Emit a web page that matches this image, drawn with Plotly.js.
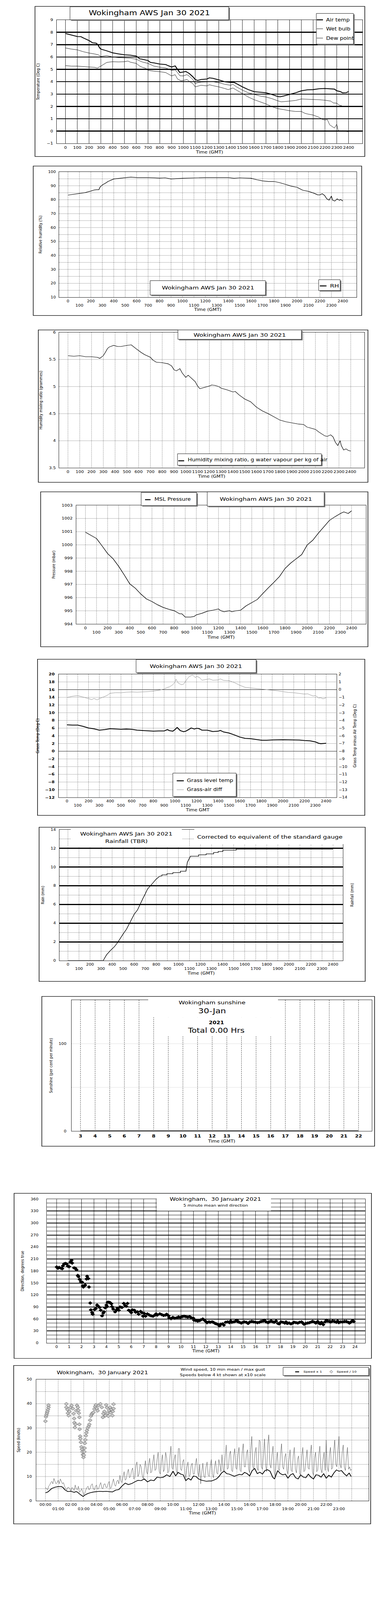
<!DOCTYPE html>
<html><head><meta charset="utf-8">
<script src="https://cdn.plot.ly/plotly-3.0.1.min.js"></script>
<style>html,body{margin:0;padding:0;background:#fff;overflow:hidden}#chart{width:1000px;height:5000px;transform-origin:0 0}</style>
</head><body><div id="chart"></div>
<script>
// ---------------- DATA ----------------
// common hour ticks (time written as HHMM-style hundreds)
const hhTicks = [0,100,200,300,400,500,600,700,800,900,1000,1100,1200,1300,1400,1500,1600,1700,1800,1900,2000,2100,2200,2300,2400];

// Panel 1: temperatures (Deg C)
const airTime = [0,50,100,130,150,200,230,260,275,290,300,350,400,450,500,550,600,630,650,700,720,750,800,850,870,900,930,950,970,1000,1020,1050,1080,1100,1120,1150,1200,1220,1250,1300,1350,1400,1430,1450,1500,1550,1600,1650,1700,1750,1800,1820,1850,1900,1950,2000,2050,2100,2150,2200,2250,2280,2300,2330,2350,2380,2400];
const airTemp = [7.9,7.77,7.66,7.65,7.55,7.33,7.15,7.12,7.0,6.73,6.64,6.5,6.34,6.25,6.18,6.15,6.08,5.85,5.82,5.71,5.56,5.52,5.43,5.39,5.3,5.19,5.28,5.0,4.74,4.79,4.83,4.66,4.4,4.18,4.1,4.18,4.22,4.31,4.27,4.15,4.0,3.94,3.94,3.84,3.58,3.36,3.19,3.15,3.1,2.97,2.8,2.78,2.84,2.97,3.1,3.26,3.34,3.36,3.43,3.45,3.42,3.4,3.27,3.2,3.1,3.11,3.2];
const wetTime = [0,50,100,150,200,250,280,300,350,400,450,500,550,600,650,700,750,800,850,900,930,950,970,1000,1030,1050,1080,1100,1120,1150,1200,1250,1300,1350,1400,1420,1450,1500,1550,1600,1650,1700,1750,1800,1830,1900,1950,2000,2050,2100,2150,2200,2250,2270,2300,2320,2350,2380,2400];
const wetBulb = [6.73,6.64,6.58,6.43,6.32,6.24,6.17,6.04,6.12,6.0,5.95,5.93,5.9,5.82,5.6,5.48,5.26,5.17,5.11,4.92,4.96,4.74,4.48,4.47,4.57,4.44,4.18,3.84,3.92,3.97,3.98,4.0,3.92,3.79,3.71,3.79,3.58,3.32,3.1,2.96,2.84,2.76,2.63,2.45,2.37,2.43,2.48,2.6,2.58,2.57,2.54,2.5,2.43,2.28,2.26,2.11,2.02,1.98,2.0];
const dewTime = [0,50,100,150,200,250,270,300,330,350,400,450,500,530,550,600,630,650,680,700,750,800,850,900,930,950,980,1000,1030,1050,1080,1100,1130,1150,1200,1220,1250,1300,1350,1380,1420,1450,1500,1550,1600,1650,1700,1750,1800,1850,1900,1950,2000,2030,2050,2100,2150,2180,2200,2220,2240,2260,2280,2300,2310,2320,2350,2370,2400];
const dewPoint = [5.3,5.26,5.26,5.22,5.19,5.16,5.1,5.26,5.43,5.56,5.62,5.6,5.62,5.67,5.58,5.48,5.26,5.17,5.09,4.92,4.85,4.81,4.74,4.47,4.57,4.22,4.07,4.1,4.18,4.03,3.84,3.58,3.66,3.71,3.66,3.75,3.68,3.58,3.45,3.36,3.49,3.32,3.02,2.76,2.54,2.37,2.2,1.98,1.82,1.74,1.65,1.59,1.59,1.44,1.39,1.3,1.12,0.94,0.9,0.94,0.51,0.38,0.25,0.55,0.12,0.0,0.04,-0.02,-0.05];

// Panel 2: relative humidity (%)
const rhTime = [0,50,100,150,200,230,250,270,280,300,330,350,400,450,500,550,600,700,800,850,900,1000,1100,1200,1300,1400,1450,1500,1600,1650,1700,1750,1800,1850,1900,1950,2000,2030,2050,2100,2150,2180,2200,2220,2240,2260,2280,2300,2310,2330,2350,2370,2380,2400];
const rhPct = [83.3,83.9,84.6,85.1,86.2,87.0,87.2,87.2,89.0,90.6,92.0,93.1,94.9,95.4,95.8,96.2,95.9,95.9,95.5,95.7,94.9,95.4,95.7,95.9,95.9,95.9,95.4,95.7,95.4,94.3,93.5,93.1,93.1,92.2,91.0,89.7,88.9,87.6,86.8,86.0,84.6,83.5,83.5,84.3,83.1,80.6,79.7,82.6,79.7,79.0,80.6,79.6,80.2,79.1];

// Panel 3: humidity mixing ratio (g/kg)
const mixTime = [0,50,100,150,200,250,270,300,320,335,350,388,420,450,500,537,578,621,650,680,700,720,750,800,850,880,900,920,950,970,1000,1020,1050,1080,1100,1120,1150,1200,1220,1250,1280,1300,1350,1400,1420,1450,1500,1550,1600,1650,1700,1750,1800,1850,1900,1950,2000,2030,2050,2100,2130,2150,2180,2200,2230,2250,2270,2290,2300,2310,2320,2340,2360,2380,2400];
const mixRatio = [5.57,5.56,5.57,5.55,5.55,5.54,5.52,5.57,5.64,5.70,5.73,5.76,5.74,5.74,5.76,5.77,5.70,5.63,5.59,5.56,5.54,5.49,5.45,5.44,5.42,5.38,5.31,5.29,5.33,5.25,5.17,5.21,5.15,5.09,5.01,4.96,4.98,5.01,5.03,5.02,5.0,4.97,4.94,4.9,4.91,4.85,4.77,4.72,4.62,4.55,4.5,4.44,4.38,4.35,4.33,4.31,4.3,4.25,4.24,4.21,4.16,4.13,4.09,4.08,4.11,4.07,3.97,3.91,3.95,4.0,3.91,3.83,3.85,3.82,3.81];

// Panel 4: MSL pressure (mbar)
const presTime = [0,50,100,150,200,250,300,350,400,450,500,550,600,650,700,750,800,850,870,900,950,980,1000,1050,1100,1150,1200,1220,1250,1300,1320,1350,1400,1450,1500,1550,1600,1650,1700,1750,1800,1850,1900,1950,2000,2050,2100,2150,2200,2250,2300,2330,2370,2400];
const presMb = [1000.96,1000.72,1000.48,999.92,999.34,998.94,998.37,997.72,997.04,996.71,996.27,995.9,995.7,995.46,995.26,995.12,995.01,994.77,994.77,994.53,994.53,994.57,994.69,994.81,994.97,995.05,995.14,995.01,994.93,995.01,994.93,994.99,995.05,995.38,995.62,995.86,996.31,996.75,997.16,997.6,998.21,998.61,998.94,999.26,999.99,1000.35,1000.88,1001.37,1001.85,1002.13,1002.38,1002.5,1002.38,1002.58];

// Panel 5: grass temperature and grass-air difference (Deg C)
const grassTime = [0,50,100,150,200,250,300,350,400,450,500,550,600,650,700,750,800,850,900,930,950,980,1000,1020,1050,1080,1100,1130,1150,1180,1200,1220,1250,1300,1350,1400,1420,1450,1500,1550,1600,1650,1700,1750,1800,1850,1900,2000,2100,2150,2200,2250,2300,2330,2350,2400];
const grassTemp = [6.87,6.79,6.79,6.46,6.04,5.82,5.48,5.62,5.85,5.76,5.71,5.76,5.71,5.48,5.4,5.26,5.21,5.26,5.26,5.62,5.35,5.21,5.62,6.18,5.35,5.07,5.21,5.68,6.04,5.76,5.96,5.9,5.48,5.48,5.12,5.21,5.4,5.01,4.73,4.24,3.68,3.35,3.26,3.07,2.85,2.85,2.93,2.99,2.93,2.9,2.79,2.71,2.43,2.07,1.96,2.07];
const diffTime = [0,50,100,150,200,230,250,280,300,350,380,400,450,500,550,600,650,700,750,800,850,900,930,950,980,1000,1010,1030,1060,1080,1100,1130,1160,1170,1190,1200,1230,1250,1300,1320,1350,1400,1420,1450,1500,1550,1600,1650,1700,1750,1800,1850,1900,1950,2000,2050,2100,2150,2200,2230,2250,2280,2300,2330,2350,2370,2400];
const grassAirDiff = [-1.03,-0.86,-0.78,-0.96,-1.16,-1.3,-1.14,-1.33,-1.16,-0.89,-0.68,-0.47,-0.4,-0.4,-0.33,-0.3,-0.33,-0.29,-0.26,-0.19,-0.08,0.08,0.29,0.36,0.64,0.99,1.36,0.85,0.64,0.71,1.13,1.68,1.89,1.82,1.54,1.75,1.54,1.22,1.33,1.4,1.22,1.26,1.4,1.2,1.17,0.92,0.57,0.29,0.22,0.15,0.08,0.02,-0.05,-0.15,-0.26,-0.36,-0.4,-0.5,-0.58,-0.54,-0.68,-0.82,-0.75,-1.09,-1.05,-1.19,-1.05];

// Panel 6: accumulated rainfall (mm)
const rainTime = [0,320,330,350,380,400,420,450,480,500,530,550,570,600,630,650,680,700,720,750,780,800,830,851,851,896,896,950,950,1018,1018,1068,1081,1109,1183,1183,1251,1251,1319,1319,1360,1360,1403,1403,1523,1523,2400];
const rainMm = [0,0,0.23,0.63,1.03,1.25,1.48,1.94,2.51,2.85,3.36,3.82,4.22,4.96,5.42,5.93,6.67,7.13,7.64,8.04,8.44,8.72,9.01,9.06,9.16,9.16,9.29,9.29,9.4,9.4,9.55,9.55,10.5,11.15,11.15,11.3,11.3,11.4,11.4,11.55,11.55,11.65,11.65,11.8,11.8,11.9,11.9];

// Panel 7: sunshine (per cent per minute), hourly
const sunHour = [3,4,5,6,7,8,9,10,11,12,13,14,15,16,17,18,19,20,21,22];
const sunPct = [0,0,0,0,0,0,0,0,0,0,0,0,0,0,0,0,0,0,0,0];

// Panel 8: 5 minute mean wind direction (degrees true)
const dirHour = [0.0,0.1,0.2,0.35,0.45,0.5,0.6,0.7,0.8,0.9,
 1.0,1.1,1.2,1.25,1.4,1.5,1.6,1.7,1.75,1.85,
 1.95,2.05,2.1,2.15,2.25,2.3,2.4,2.45,2.55,2.6,
 2.7,2.75,2.85,2.9,3.05,3.15,3.25,3.3,3.45,3.55,
 3.65,3.75,3.8,3.9,4.0,4.05,4.1,4.2,4.3,4.4,
 4.45,4.55,4.7,4.8,4.9,5.0,5.1,5.25,5.4,5.5,
 5.6,5.7,5.8,5.9,6.0,6.1,6.25,6.35,6.5,6.6,
 6.75,6.85,6.95,7.05,7.15,7.3,7.45,7.6,7.75,7.9,
 8.0,8.1,8.3,8.45,8.6,8.75,8.85,9.0,9.05,9.2,
 9.35,9.5,9.65,9.8,9.95,10.1,10.25,10.4,10.55,10.7,
 10.85,11.0,11.05,11.2,11.35,11.5,11.6,11.75,11.85,12.0,
 12.1,12.25,12.35,12.5,12.6,12.75,12.85,13.0,13.1,13.2,
 13.35,13.45,13.6,13.75,13.9,14.0,14.1,14.25,14.4,14.5,
 14.6,14.7,14.85,15.0,15.1,15.25,15.4,15.55,15.7,15.85,
 16.0,16.15,16.3,16.45,16.6,16.7,16.85,17.0,17.1,17.25,
 17.4,17.5,17.65,17.8,17.9,18.05,18.2,18.35,18.45,18.55,
 18.7,18.85,19.0,19.1,19.25,19.4,19.55,19.7,19.8,19.9,
 20.05,20.2,20.35,20.5,20.6,20.75,20.85,21.0,21.1,21.2,
 21.3,21.35,21.45,21.6,21.7,21.8,21.95,22.05,22.2,22.35,
 22.5,22.6,22.7,22.85,23.0,23.15,23.3,23.45,23.55,23.65,
 23.8,23.9];
const dirDeg = [190,187,189,187,186,193,198,199,198,192,
 191,202,207,200,188,187,183,169,166,159,
 153,152,143,140,144,145,160,167,161,140,
 100,83,76,72,84,86,95,93,89,82,
 68,75,78,88,95,91,102,102,101,98,
 91,85,78,82,87,82,90,89,99,94,
 92,99,82,80,76,83,82,77,78,72,
 79,76,67,74,67,73,70,68,67,70,
 73,70,73,71,69,70,72,68,63,61,
 64,62,63,65,64,66,67,66,65,66,
 63,62,57,56,55,56,58,60,58,54,
 51,53,52,53,52,49,48,46,43,47,
 48,45,52,53,51,55,52,53,55,57,
 53,52,50,52,53,52,49,53,54,53,
 52,51,52,54,55,57,53,51,53,55,
 53,52,55,49,48,53,52,50,53,49,
 50,48,50,52,51,50,52,53,50,47,
 49,50,51,53,54,52,50,54,50,48,
 52,50,46,53,57,55,54,53,55,54,
 52,55,51,53,53,54,54,52,50,52,
 56,54];

// Panel 9: wind speed (knots)
const hourTicks = [0,1,2,3,4,5,6,7,8,9,10,11,12,13,14,15,16,17,18,19,20,21,22,23,24];
const hourLabels = ['00:00','01:00','02:00','03:00','04:00','05:00','06:00','07:00','08:00','09:00','10:00','11:00','12:00','13:00','14:00','15:00','16:00','17:00','18:00','19:00','20:00','21:00','22:00','23:00',''];
const meanHour = [0,0.2,0.35,0.5,0.75,1.0,1.25,1.4,1.5,1.75,2.0,2.25,2.4,2.5,2.75,2.95,3.1,3.3,3.5,3.75,4.0,4.25,4.5,4.75,5.0,5.25,5.5,5.75,6.0,6.25,6.5,6.75,7.0,7.25,7.5,7.75,8.0,8.25,8.5,8.75,9.0,9.25,9.5,9.75,10.0,10.2,10.4,10.6,10.8,11.0,11.2,11.4,11.6,11.8,12.0,12.2,12.4,12.6,12.8,13.0,13.2,13.4,13.6,13.8,14.0,14.2,14.4,14.6,14.8,15.0,15.2,15.4,15.6,15.8,16.0,16.2,16.4,16.6,16.8,17.0,17.2,17.4,17.6,17.8,17.95,18.2,18.4,18.6,18.8,19.0,19.2,19.4,19.6,19.8,20.0,20.2,20.4,20.6,20.8,21.0,21.2,21.4,21.6,21.8,22.0,22.2,22.4,22.6,22.8,23.0,23.2,23.4,23.6,23.8,23.95];
const meanKt = [3.27,3.66,4.4,5.1,5.6,5.85,5.85,5.37,4.63,3.8,3.9,3.5,3.8,3.6,2.5,1.8,2.4,2.95,3.3,3.6,3.76,3.9,3.8,3.9,3.76,3.66,4.4,4.63,6.1,7.3,6.68,7.07,7.8,8.44,8.3,9.0,7.8,8.54,8.3,9.76,9.5,9.76,10.7,10.0,12.2,10.24,11.7,11.0,10.7,8.3,9.27,8.54,10.24,10.0,9.0,8.54,8.3,8.05,8.15,8.15,8.54,9.0,10.0,11.46,12.2,11.2,11.0,10.5,10.1,10.5,10.88,10.7,11.7,11.2,10.24,12.44,13.3,11.2,11.8,11.0,12.44,12.8,12.2,9.76,9.0,12.44,11.2,10.7,11.0,9.27,10.7,11.2,9.5,9.0,10.7,9.76,9.5,11.0,9.76,9.0,10.7,10.5,9.76,11.2,9.27,10.5,9.76,11.46,12.7,12.2,12.44,11.2,10.24,11.46,10.0];
// max gust, every 5 minutes (minutes after midnight)
const gustMin = [
 0,5,10,15,20,25,30,35,40,45,50,55,
 60,65,70,75,80,85,90,95,100,105,110,115,
 120,125,130,135,140,145,150,155,160,165,170,175,
 180,185,190,195,200,205,210,215,220,225,230,235,
 240,245,250,255,260,265,270,275,280,285,290,295,
 300,305,310,315,320,325,330,335,340,345,350,355,
 360,365,370,375,380,385,390,395,400,405,410,415,
 420,425,430,435,440,445,450,455,460,465,470,475,
 480,485,490,495,500,505,510,515,520,525,530,535,
 540,545,550,555,560,565,570,575,580,585,590,595,
 600,605,610,615,620,625,630,635,640,645,650,655,
 660,665,670,675,680,685,690,695,700,705,710,715,
 720,725,730,735,740,745,750,755,760,765,770,775,
 780,785,790,795,800,805,810,815,820,825,830,835,
 840,845,850,855,860,865,870,875,880,885,890,895,
 900,905,910,915,920,925,930,935,940,945,950,955,
 960,965,970,975,980,985,990,995,1000,1005,1010,1015,
 1020,1025,1030,1035,1040,1045,1050,1055,1060,1065,1070,1075,
 1080,1085,1090,1095,1100,1105,1110,1115,1120,1125,1130,1135,
 1140,1145,1150,1155,1160,1165,1170,1175,1180,1185,1190,1195,
 1200,1205,1210,1215,1220,1225,1230,1235,1240,1245,1250,1255,
 1260,1265,1270,1275,1280,1285,1290,1295,1300,1305,1310,1315,
 1320,1325,1330,1335,1340,1345,1350,1355,1360,1365,1370,1375,
 1380,1385,1390,1395,1400,1405,1410,1415,1420,1425,1430,1435,
 1439];
const gustKt = [
 5.5,5.0,4.5,6.0,6.5,7.5,8.0,7.0,9.2,8.0,7.0,7.5,
 8.5,7.0,9.0,8.0,7.0,7.5,6.0,5.0,4.5,5.5,5.5,4.8,
 4.0,5.5,5.0,4.2,6.5,5.0,4.5,6.0,3.5,4.0,5.0,3.8,
 2.5,3.0,4.5,5.5,6.0,4.5,5.0,6.5,7.0,5.0,4.5,6.0,
 6.5,4.8,5.0,6.5,7.5,5.2,5.0,6.8,7.0,5.5,5.5,7.2,
 8.0,5.0,5.5,7.5,9.0,6.5,6.0,8.0,8.5,7.0,10.5,8.0,
 7.5,10.0,12.0,8.5,9.0,11.5,13.0,9.5,10.0,12.5,13.5,9.0,
 9.5,14.5,16.0,10.0,11.0,15.0,14.0,10.5,9.0,13.0,16.5,12.0,
 11.0,15.0,17.5,11.5,12.0,16.0,19.0,12.5,13.0,17.0,20.0,12.0,
 11.0,16.0,19.0,12.0,13.0,20.0,17.5,11.5,12.0,18.0,22.5,13.5,
 13.0,17.0,19.0,12.5,11.0,21.5,21.5,13.0,12.5,16.0,17.0,11.0,
 9.5,14.0,16.0,10.0,10.5,14.5,15.5,11.0,11.0,15.0,17.5,12.0,
 10.0,15.0,7.0,12.0,15.5,10.0,9.5,14.0,16.0,10.5,10.0,14.5,
 17.0,11.0,9.5,14.0,16.5,11.5,11.0,17.0,15.0,12.0,19.0,13.0,
 12.0,18.0,23.0,13.0,13.5,19.0,20.5,12.5,12.0,18.5,21.5,13.5,
 13.0,19.0,22.0,12.5,12.0,20.0,23.5,14.0,14.0,19.5,21.0,13.0,
 11.5,21.0,26.5,14.0,13.0,20.0,22.0,13.5,12.5,25.0,24.5,14.0,
 13.0,19.0,25.5,14.5,12.0,23.0,27.2,15.0,13.5,19.0,22.5,12.0,
 10.0,16.0,20.0,13.0,12.5,19.0,23.5,14.0,13.0,18.0,19.5,12.5,
 11.0,17.0,21.0,12.5,12.0,18.5,22.0,13.0,11.5,17.0,18.5,11.0,
 11.0,18.5,22.0,12.0,12.5,17.0,21.0,13.5,13.0,19.0,23.0,12.0,
 10.5,17.5,20.0,12.0,12.5,19.0,22.5,13.0,11.5,17.0,20.0,12.5,
 25.0,14.0,12.0,19.0,22.0,13.0,13.5,20.0,25.0,15.0,14.0,21.0,
 26.5,15.0,13.5,20.0,23.0,14.0,12.5,18.0,22.0,13.0,14.0,12.5,
 13.0];
const lowHour = [0.0,0.04,0.08,0.12,0.16,0.2,0.24,0.24,
 1.64,1.64,1.72,1.76,1.82,1.88,1.96,2.05,2.15,2.21,
 2.25,2.27,2.31,2.35,2.41,2.47,2.54,2.58,2.62,2.66,
 2.66,2.68,2.72,2.74,2.78,2.82,2.86,2.9,2.94,2.98,
 3.01,3.05,3.07,3.09,3.13,3.17,3.21,3.25,3.31,3.39,
 3.44,3.5,3.56,3.62,3.68,3.76,3.84,3.9,3.95,4.03,
 4.09,4.17,4.31,4.42,4.5,4.54,4.62,4.7,4.76,4.82,
 4.87,4.93,4.99,5.07,5.11,5.17,5.25,5.28,5.34,5.34];
const lowX10 = [32.8,34.6,35.4,36.1,36.8,37.6,38.5,39.4,
 39.9,38.5,37.6,36.1,35.1,36.8,38.4,39.3,38.0,35.9,
 33.9,32.2,30.2,31.5,37.1,39.3,38.5,37.3,36.1,34.4,
 31.5,29.5,26.6,25.6,24.1,22.2,21.2,20.2,19.0,17.9,
 18.8,20.2,21.7,23.7,25.1,26.8,28.0,29.0,30.0,30.7,
 31.5,33.2,34.9,35.6,36.1,36.4,37.8,38.8,39.5,38.0,
 37.1,39.3,39.9,38.5,34.4,35.9,36.8,35.1,39.5,38.4,
 36.1,34.9,37.3,38.5,36.3,37.6,35.1,36.8,39.8,38.0];

// ---------------- STYLE HELPERS ----------------
const F = 'DejaVu Sans, Liberation Sans, Arial, sans-serif';
const DOT = '1px,2px';
const K = '#000';
function xd(a,b){return [a/1000,b/1000];}
function yd(t,b){return [1-b/5000,1-t/5000];}
function tf(size,weight){return {family:F,size:size,color:K,weight:weight||'normal'};}
function ttl(text,standoff,size){return {text:text,standoff:standoff,font:tf(size)};}
function twoRow(vals,labels){return vals.map((v,i)=>{const s=labels?labels[i]:String(v);return i%2===0?s:'<br>'+s;});}
function ax(o){
  return Object.assign({showline:true,mirror:true,linecolor:K,linewidth:1,ticks:'',zeroline:false,tickangle:0,
    showgrid:true,gridcolor:K,gridwidth:1,griddash:DOT,tickfont:tf(11),fixedrange:true,automargin:false,layer:'below traces'},o);
}

const shapes=[]; const ann=[];
function rectPx(x0,y0,x1,y1,opt){shapes.push(Object.assign({type:'rect',xref:'paper',yref:'paper',x0:x0/1000,x1:x1/1000,y0:1-y0/5000,y1:1-y1/5000,layer:'above'},opt));}
function frame(x0,y0,x1,y1){rectPx(x0,y0,x1,y1,{line:{color:K,width:1.5},fillcolor:'rgba(0,0,0,0)'});}
function box(x0,y0,x1,y1){rectPx(x0+3,y0+3,x1+3,y1+3,{line:{width:0},fillcolor:'#7a7a7a'});rectPx(x0,y0,x1,y1,{line:{color:K,width:1},fillcolor:'#fff'});}
function whiteBox(x0,y0,x1,y1){rectPx(x0,y0,x1,y1,{line:{width:0},fillcolor:'#fff'});}
function seg(x0,x1,y,color,width){shapes.push({type:'line',xref:'paper',yref:'paper',x0:x0/1000,x1:x1/1000,y0:1-y/5000,y1:1-y/5000,line:{color:color,width:width},layer:'above'});}
function txt(x,y,text,size,opt){ann.push(Object.assign({xref:'paper',yref:'paper',x:x/1000,y:1-y/5000,text:text,showarrow:false,xanchor:'center',yanchor:'middle',font:tf(size)},opt||{}));}

// frames
frame(89.5,20,933,489); frame(85,519,925,986); frame(98,1031,941,1507); frame(104,1537,941,2021);
frame(96,2060,933,2548); frame(100,2585,934,3067); frame(107,3114,958,3582); frame(36,3729,950,4245); frame(35,4267,948,4762);

// Panel 1 title + legend
box(179,21,585,62); txt(382,41.5,'Wokingham AWS Jan 30 2021',21);
box(809,42,904,138);
seg(810,826,62,K,3); txt(832,62,'Air temp',14,{xanchor:'left'});
seg(810,826,90,K,1); txt(832,90,'Wet bulb',14,{xanchor:'left'});
seg(810,826,119,K,1); txt(832,119,'Dew point',14,{xanchor:'left'});
// Panel 2
box(384,877,679,922); txt(531.5,899.5,'Wokingham AWS Jan 30 2021',16);
box(815,874,870,908); seg(818,835,893.5,K,3); txt(842,892,'RH',16,{xanchor:'left'});
// Panel 3
box(455,1031,771,1060.5); txt(613,1046,'Wokingham AWS Jan 30 2021',16);
box(454,1418,822,1454); seg(456,471,1440,K,3); txt(478,1437,'Humidity mixing ratio, g water vapour per kg of air',14,{xanchor:'left'});
// Panel 4
box(361,1539,503,1580); seg(371,385,1561.5,K,3); txt(393,1560,'MSL Pressure',14,{xanchor:'left'});
box(530,1537,829,1582); txt(680,1559,'Wokingham AWS Jan 30 2021',16);
// Panel 5
box(348,2061,655,2102); txt(501,2081.5,'Wokingham AWS Jan 30 2021',16);
box(442,2416,604,2489); seg(452,470,2440,K,3); txt(476,2439,'Grass level temp',14,{xanchor:'left'});
seg(452,470,2468,'#888',1); txt(476,2467,'Grass-air diff',14,{xanchor:'left'});
// Panel 6
whiteBox(181,2588,465,2645); whiteBox(497,2588,880,2638);
txt(323,2605,'Wokingham AWS Jan 30 2021',16); txt(323,2628,'Rainfall (TBR)',16);
txt(690,2615,'Corrected to equivalent of the standard gauge',16);
txt(900,2797,'Rainfall (mm)',11,{textangle:-90});
// Panel 7
whiteBox(379,3120,711,3179); whiteBox(399,3179,703,3236);
txt(542,3133,'Wokingham sunshine',16); txt(542,3159,'30-Jan',22);
txt(553,3196,'<b>2021</b>',14); txt(553,3220.5,'Total 0.00 Hrs',21);
// Panel 8
whiteBox(401,3738,693,3784);
txt(551,3746.5,'Wokingham,  30 January 2021',15.5); txt(551,3767,'5 minute mean wind direction',11);
// Panel 9
txt(262,4288.5,'Wokingham,  30 January 2021',15.5);
txt(570,4279,'Wind speed, 10 min mean / max gust',11.5); txt(570,4296.5,'Speeds below 4 kt shown at x10 scale',11.5);
box(724,4273,943,4298.5); seg(755,765,4287,K,3); txt(774,4286,'Speed x 1',9.5,{xanchor:'left'});
txt(847,4286,'◇',11,{font:tf(11)}); txt(859,4286,'Speed / 10',9.5,{xanchor:'left'});

// ---------------- TRACES ----------------
const L=(x,y,xa,ya,w,c)=>({x:x,y:y,xaxis:xa,yaxis:ya,mode:'lines',line:{color:c||K,width:w},hoverinfo:'skip'});
const traces=[
  L(wetTime,wetBulb,'x','y',1),
  L(dewTime,dewPoint,'x','y',1),
  L(airTime,airTemp,'x','y',2.5),
  L(rhTime,rhPct,'x2','y2',1.5),
  L(mixTime,mixRatio,'x3','y3',1.3),
  L(presTime,presMb,'x4','y4',1.5),
  L(diffTime,grassAirDiff,'x5','y10',1,'#888'),
  L(grassTime,grassTemp,'x5','y5',2.5),
  L(rainTime,rainMm,'x6','y6',1.5),
  L(sunHour,sunPct,'x7','y7',3.5),
  {x:dirHour,y:dirDeg,xaxis:'x8',yaxis:'y8',mode:'markers',marker:{symbol:'diamond',size:8.5,color:K},hoverinfo:'skip'},
  L(gustMin.map(m=>m/60),gustKt,'x9','y9',0.9,'#444'),
  L(meanHour,meanKt,'x9','y9',2),
  {x:lowHour,y:lowX10,xaxis:'x9',yaxis:'y9',mode:'markers',marker:{symbol:'diamond',size:8,color:'#c8c8c8',line:{color:'#555',width:1}},hoverinfo:'skip'}
];

// ---------------- LAYOUT ----------------
const layout={
  width:1000,height:5000,margin:{l:0,r:0,t:0,b:0},paper_bgcolor:'#fff',plot_bgcolor:'#fff',showlegend:false,
  font:{family:F,size:11,color:K},
  xaxis: ax({domain:xd(145,927),anchor:'y',range:[-74.3,2518],tickmode:'array',tickvals:hhTicks,ticktext:hhTicks.map(String),griddash:'solid',ticklabelstandoff:2,title:ttl('Time (GMT)',4,12)}),
  yaxis: ax({domain:yd(62.3,448.3),anchor:'x',range:[-1,9],dtick:1,tick0:0,gridwidth:3,griddash:'solid',ticklabelstandoff:6,title:ttl('Temperature (Deg C)',15,11)}),
  xaxis2: ax({domain:xd(151,912),anchor:'y2',range:[-77.8,2520],tickmode:'array',tickvals:hhTicks,ticktext:twoRow(hhTicks),tickfont:tf(10.5),ticklabelstandoff:2,title:ttl('Time (GMT)',4,12)}),
  yaxis2: ax({domain:yd(537,929),anchor:'x2',range:[10,100],dtick:10,tick0:0,minor:{dtick:5,showgrid:true,gridcolor:K,griddash:DOT,gridwidth:1},ticklabelstandoff:5,tickfont:tf(10.5),title:ttl('Relative humidity (%)',12,11)}),
  xaxis3: ax({domain:xd(151,932),anchor:'y3',range:[-75.7,2516],tickmode:'array',tickvals:hhTicks,ticktext:hhTicks.map(String),ticklabelstandoff:2,title:ttl('Time (GMT)',4,12)}),
  yaxis3: ax({domain:yd(1038.7,1462),anchor:'x3',range:[3.5,6],dtick:0.5,tick0:0,ticklabelstandoff:5,title:ttl('Humidity mixing ratio (grammes)',14,11)}),
  xaxis4: ax({domain:xd(195,936),anchor:'y4',range:[-82.9,2530],tickmode:'array',tickvals:hhTicks,ticktext:twoRow(hhTicks),ticklabelstandoff:2,title:ttl('Time (GMT)',4,12)}),
  yaxis4: ax({domain:yd(1579,1950),anchor:'x4',range:[994,1003],dtick:1,tick0:0,ticklabelstandoff:6,title:ttl('Pressure (mbar)',13,11)}),
  xaxis5: ax({domain:xd(150,861),anchor:'y5',range:[-76.8,2497],tickmode:'array',tickvals:hhTicks,ticktext:twoRow(hhTicks),tickfont:tf(10.5),ticklabelstandoff:2,title:ttl('Time GMT',4,12)}),
  yaxis5: ax({domain:yd(2107,2492),anchor:'x5',range:[-12,20],dtick:2,tick0:0,zeroline:true,zerolinecolor:K,zerolinewidth:1,tickfont:tf(11,'bold'),ticklabelstandoff:7,title:ttl('Grass Temp (Deg C)',12,11)}),
  yaxis10: ax({overlaying:'y5',side:'right',anchor:'x5',range:[-14,2],dtick:1,tick0:0,showgrid:false,showline:false,zeroline:true,zerolinecolor:K,zerolinewidth:1,tickfont:tf(10.5),ticklabelstandoff:4,title:ttl('Grass Temp minus Air Temp (Deg C)',15,11)}),
  xaxis6: ax({domain:xd(152,877),anchor:'y6',range:[-77,2489],tickmode:'array',tickvals:hhTicks,ticktext:twoRow(hhTicks),tickfont:tf(10.5),ticklabelstandoff:2,title:ttl('Time (GMT)',4,12)}),
  yaxis6: ax({domain:yd(2592.3,3002),anchor:'x6',range:[0,14],dtick:2,tick0:0,gridwidth:3,griddash:'solid',minor:{dtick:1,showgrid:true,gridcolor:K,griddash:DOT,gridwidth:1},ticklabelstandoff:6,tickfont:tf(10.5),title:ttl('Rain (mm)',13,11)}),
  xaxis7: ax({domain:xd(183,951),anchor:'y7',range:[2.39,22.91],tickmode:'array',tickvals:sunHour,ticktext:sunHour.map(String),griddash:'3px,3px',tickfont:tf(13,'bold'),ticklabelstandoff:4,title:ttl('Time (GMT)',4,12)}),
  yaxis7: ax({domain:yd(3125,3534.6),anchor:'x7',range:[0,150],tickmode:'array',tickvals:[0,50,100],ticktext:['0','','100'],gridcolor:'#999',ticklabelstandoff:10,tickfont:tf(10.5),title:ttl('Sunshine (per cent per minute)',12,11)}),
  xaxis8: ax({domain:xd(119.5,934),anchor:'y8',range:[-0.8,24.82],tickmode:'array',tickvals:hourTicks,ticktext:hourTicks.map(String),griddash:'solid',tickfont:tf(10.5),ticklabelstandoff:2,title:ttl('Time (GMT)',4,12)}),
  yaxis8: ax({domain:yd(3747,4197),anchor:'x8',range:[0,360],dtick:30,tick0:0,gridwidth:2.5,griddash:'solid',minor:{dtick:10,showgrid:true,gridcolor:K,griddash:'solid',gridwidth:1},ticklabelstandoff:18,tickfont:tf(10.5),title:ttl('Direction, degrees true',14,11)}),
  xaxis9: ax({domain:xd(92.7,943),anchor:'y9',range:[-0.72,25.33],tickmode:'array',tickvals:hourTicks,ticktext:twoRow(hourTicks,hourLabels),tickfont:tf(10.5),ticklabelstandoff:2,title:ttl('Time (GMT)',4,12)}),
  yaxis9: ax({domain:yd(4310.7,4690),anchor:'x9',range:[0,50],dtick:10,tick0:0,minor:{dtick:5,showgrid:true,gridcolor:K,griddash:DOT,gridwidth:1},ticklabelstandoff:8,tickfont:tf(10.5),title:ttl('Speed (knots)',14,11)}),
  shapes:shapes, annotations:ann
};
// The sandbox viewport may be shorter than the 5000px design height; squeeze vertically to fit the whole chart.
const vh = window.innerHeight || 5000;
const sy = Math.min(1, vh/5000);
document.getElementById('chart').style.transform = 'scaleY(' + sy + ')';
Plotly.newPlot('chart',traces,layout,{staticPlot:true,displayModeBar:false});
</script></body></html>
